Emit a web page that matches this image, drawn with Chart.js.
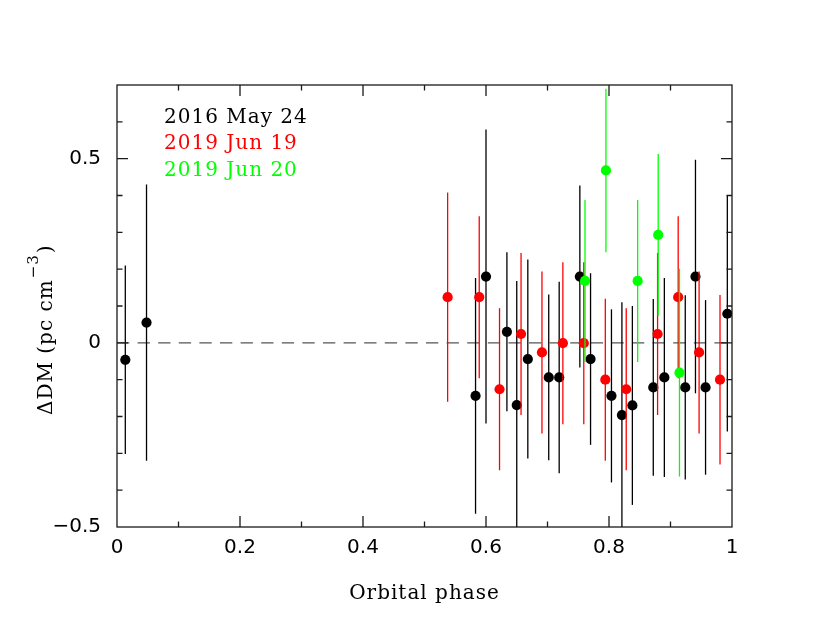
<!DOCTYPE html>
<html><head><meta charset="utf-8">
<script src="https://cdn.jsdelivr.net/npm/chart.js@4"></script>
<style>html,body{margin:0;padding:0;background:#fff;}canvas{display:block;}</style>
</head><body>
<canvas id="c" width="830" height="642"></canvas>
<script>
const seriesNames = ['2016 May 24', '2019 Jun 19', '2019 Jun 20'];
const seriesColors = ['#000000', '#ff0000', '#00ff00'];

const phase2016 = [0.0135, 0.048, 0.583, 0.600, 0.634, 0.650, 0.668, 0.702, 0.719, 0.7526, 0.770, 0.804, 0.821, 0.838, 0.872, 0.890, 0.924, 0.9406, 0.957, 0.9924];
const dm2016    = [-0.046, 0.055, -0.144, 0.180, 0.030, -0.169, -0.044, -0.094, -0.094, 0.180, -0.044, -0.144, -0.196, -0.170, -0.121, -0.094, -0.121, 0.180, -0.121, 0.079];
const err2016   = [0.256, 0.375, 0.320, 0.399, 0.216, 0.337, 0.270, 0.225, 0.260, 0.247, 0.233, 0.235, 0.306, 0.270, 0.240, 0.270, 0.250, 0.317, 0.237, 0.320];

const phase2019a = [0.5376, 0.589, 0.622, 0.657, 0.691, 0.725, 0.759, 0.794, 0.828, 0.879, 0.9125, 0.9465, 0.9805];
const dm2019a    = [0.124, 0.124, -0.126, 0.024, -0.026, -0.001, -0.001, -0.100, -0.126, 0.024, 0.124, -0.026, -0.100];
const err2019a   = [0.284, 0.220, 0.220, 0.220, 0.220, 0.220, 0.220, 0.220, 0.220, 0.220, 0.220, 0.220, 0.230];

const phase2019b = [0.761, 0.795, 0.8466, 0.880, 0.9146];
const dm2019b    = [0.168, 0.468, 0.168, 0.293, -0.081];
const err2019b   = [0.220, 0.222, 0.220, 0.220, 0.282];

const xTickValues = [0, 0.2, 0.4, 0.6, 0.8, 1];
const xTickLabels = ['0', '0.2', '0.4', '0.6', '0.8', '1'];
const yTickValues = [-0.5, 0, 0.5];
const yTickLabels = ['\u22120.5', '0', '0.5'];
const xTitle = 'Orbital phase';
const yTitleMain = '\u0394DM (pc cm';
const yTitleSup = '\u22123';
const yTitleEnd = ')';

function pts(xs, ys, es) { return xs.map((v, i) => ({x: v, y: ys[i], e: es[i]})); }

const serifFont = '"DejaVu Serif", "Liberation Serif", serif';

const decor = {
  id: 'decor',
  beforeDatasetsDraw(chart) {
    const {ctx, chartArea: a, scales: {y}} = chart;
    ctx.save();
    ctx.strokeStyle = '#555555';
    ctx.lineWidth = 1.4;
    ctx.setLineDash([12.3, 8.3]);
    const y0 = y.getPixelForValue(0);
    ctx.beginPath(); ctx.moveTo(a.left, y0); ctx.lineTo(a.right, y0); ctx.stroke();
    ctx.restore();
  },
  beforeDatasetDraw(chart, args) {
    const ds = chart.data.datasets[args.index];
    const {ctx, chartArea: a, scales: {x, y}} = chart;
    ctx.save();
    ctx.beginPath(); ctx.rect(a.left, a.top, a.right - a.left, a.bottom - a.top); ctx.clip();
    ctx.strokeStyle = ds.borderColor;
    ctx.lineWidth = 1.3;
    ds.data.forEach(p => {
      const px = x.getPixelForValue(p.x);
      ctx.beginPath();
      ctx.moveTo(px, y.getPixelForValue(p.y - p.e));
      ctx.lineTo(px, y.getPixelForValue(p.y + p.e));
      ctx.stroke();
    });
    ctx.restore();
  },
  afterDraw(chart) {
    const {ctx, chartArea: a, scales: {x, y}} = chart;
    ctx.save();
    ctx.strokeStyle = '#1a1a1a';
    ctx.lineWidth = 1.3;
    ctx.strokeRect(a.left, a.top, a.right - a.left, a.bottom - a.top);
    ctx.beginPath();
    for (let i = 1; i < 10; i++) {
      const px = x.getPixelForValue(i / 10);
      const len = (i % 2 === 0) ? 11 : 5.5;
      ctx.moveTo(px, a.bottom); ctx.lineTo(px, a.bottom - len);
      ctx.moveTo(px, a.top); ctx.lineTo(px, a.top + len);
    }
    for (let i = -4; i <= 6; i++) {
      const py = y.getPixelForValue(i / 10);
      const len = (i % 5 === 0) ? 11 : 5.5;
      ctx.moveTo(a.left, py); ctx.lineTo(a.left + len, py);
      ctx.moveTo(a.right, py); ctx.lineTo(a.right - len, py);
    }
    ctx.stroke();

    ctx.letterSpacing = '1px';
    ctx.font = '20px ' + serifFont;
    ctx.textAlign = 'left';
    ctx.textBaseline = 'alphabetic';
    const baselines = [122.5, 149, 175.5];
    seriesNames.forEach((n, i) => { ctx.fillStyle = seriesColors[i]; ctx.fillText(n, a.left + 47, baselines[i]); });

    ctx.fillStyle = '#000';
    ctx.textAlign = 'center';
    ctx.fillText(xTitle, (a.left + a.right) / 2, 599);

    ctx.translate(52, 415);
    ctx.rotate(-Math.PI / 2);
    ctx.textAlign = 'left';
    ctx.fillText(yTitleMain, 0, 0);
    const w1 = ctx.measureText(yTitleMain).width;
    ctx.font = '15px ' + serifFont;
    ctx.fillText(yTitleSup, w1 + 1, -14);
    const w2 = ctx.measureText(yTitleSup).width;
    ctx.font = '20px ' + serifFont;
    ctx.fillText(yTitleEnd, w1 + w2 + 2, 0);
    ctx.restore();
  }
};

new Chart(document.getElementById('c'), {
  type: 'scatter',
  data: {
    datasets: [
      {label: seriesNames[0], data: pts(phase2016, dm2016, err2016), backgroundColor: seriesColors[0], borderColor: seriesColors[0], pointRadius: 5.1, pointBorderWidth: 0, order: 3},
      {label: seriesNames[1], data: pts(phase2019a, dm2019a, err2019a), backgroundColor: seriesColors[1], borderColor: seriesColors[1], pointRadius: 5.1, pointBorderWidth: 0, order: 2},
      {label: seriesNames[2], data: pts(phase2019b, dm2019b, err2019b), backgroundColor: seriesColors[2], borderColor: seriesColors[2], pointRadius: 5.1, pointBorderWidth: 0, order: 1}
    ]
  },
  options: {
    responsive: false,
    animation: false,
    layout: {padding: {left: 0, top: 85, right: 98, bottom: 0}},
    plugins: {legend: {display: false}, tooltip: {enabled: false}},
    scales: {
      x: {
        type: 'linear', min: 0, max: 1,
        grid: {display: false, drawTicks: false},
        border: {display: false},
        afterBuildTicks: s => { s.ticks = xTickValues.map(v => ({value: v})); },
        afterFit: s => { s.height = 115; },
        ticks: {
          autoSkip: false, maxRotation: 0, padding: 9, color: '#000',
          font: {family: '"DejaVu Sans", sans-serif', size: 20},
          callback: (v) => { const i = xTickValues.findIndex(t => Math.abs(t - v) < 1e-9); return i >= 0 ? xTickLabels[i] : ''; }
        }
      },
      y: {
        type: 'linear', min: -0.5, max: 0.7,
        grid: {display: false, drawTicks: false},
        border: {display: false},
        afterBuildTicks: s => { s.ticks = yTickValues.map(v => ({value: v})); },
        afterFit: s => { s.width = 117; },
        ticks: {
          autoSkip: false, padding: 16, color: '#000',
          font: {family: '"DejaVu Sans", sans-serif', size: 20},
          callback: (v) => { const i = yTickValues.findIndex(t => Math.abs(t - v) < 1e-9); return i >= 0 ? yTickLabels[i] : ''; }
        }
      }
    }
  },
  plugins: [decor]
});
</script>
</body></html>
